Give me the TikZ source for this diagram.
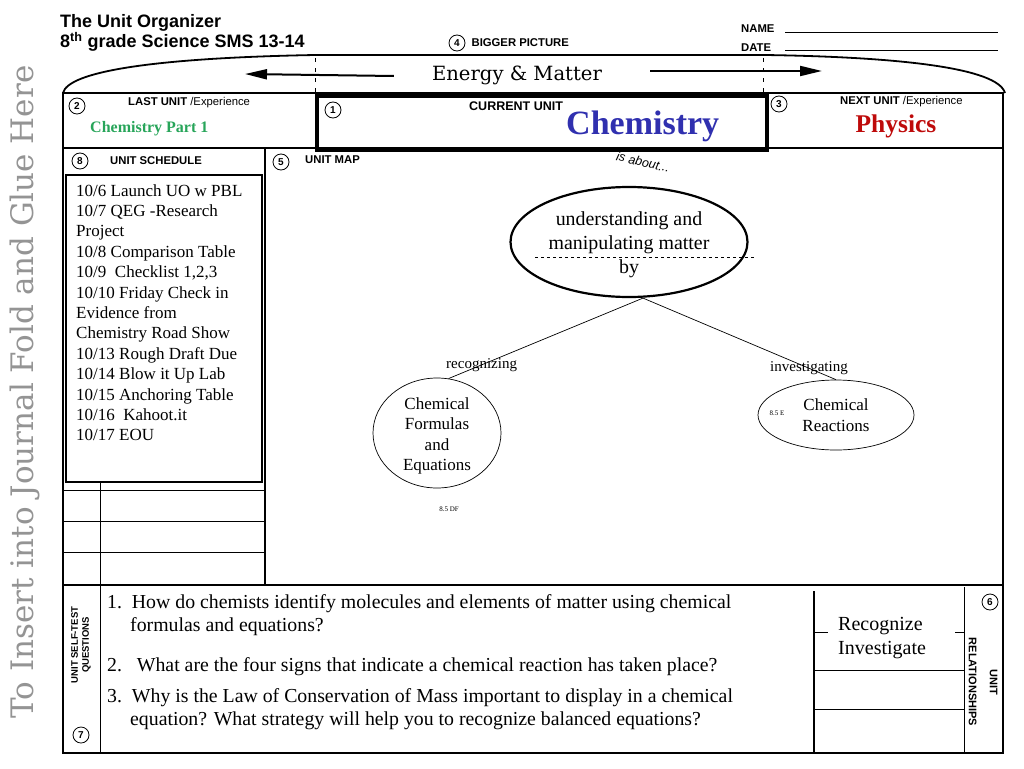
\documentclass[tikz,border=0pt]{standalone}
\usepackage{fontspec}
\setmainfont{Liberation Serif}
\setsansfont{Liberation Sans}
\newfontfamily\slabfont{DejaVu Serif}
\usepackage{xcolor}
\usetikzlibrary{positioning,arrows.meta,shapes.geometric}

\definecolor{lastgreen}{RGB}{40,165,90}
\definecolor{curblue}{RGB}{48,48,175}
\definecolor{nextred}{RGB}{190,10,10}

\begin{document}
\begin{tikzpicture}[
  x=1pt, y=-1pt,
  font=\sffamily,
  frame/.style  = {line width=1.8pt},
  rule/.style   = {line width=0.9pt},
  numc/.style   = {draw, circle, line width=0.8pt, inner sep=0pt, minimum size=16pt,
                   font=\sffamily\bfseries\fontsize{10}{10}\selectfont},
  head/.style   = {inner sep=0pt, font=\sffamily\bfseries\fontsize{11.3}{13}\selectfont},
  sched/.style  = {inner sep=0pt, align=left, anchor=north west,
                   font=\rmfamily\fontsize{17}{20.4}\selectfont},
  ques/.style   = {inner sep=0pt, anchor=west, font=\rmfamily\fontsize{19.8}{23}\selectfont},
  bubble/.style = {draw, ellipse, inner sep=0pt},
  words/.style  = {inner sep=0pt, align=center, font=\rmfamily\fontsize{17}{20.5}\selectfont},
  link/.style   = {line width=0.7pt},
  wide/.style   = {-{Triangle[length=22pt,width=10pt]}, line width=2pt},
]
\useasboundingbox (0,0) rectangle (1024,768);

% ---------- side note ----------
\node[rotate=90, text=black!42, font=\slabfont\fontsize{31}{31}\selectfont] (glue)
      at (25,392) {To Insert into Journal Fold and Glue Here};

% ---------- header ----------
\node[anchor=west, inner sep=0pt, align=left, font=\sffamily\bfseries\fontsize{18}{20}\selectfont]
      (title) at (60,33) {The Unit Organizer\\8\textsuperscript{th} grade Science SMS 13-14};
\node[head, anchor=west] (namelbl) at (741,29) {NAME};
\node[head, anchor=west] (datelbl) at (741,48) {DATE};
\draw[rule] (785,32) -- (998,32);
\draw[rule] (785,50) -- (998,50);

\node[numc] (n4) at (457,43) {4};
\node[head, right=6pt of n4] (bigger) {BIGGER PICTURE};

% ---------- bigger picture band ----------
\draw[frame] (63,93) .. controls (68,72) and (150,58) .. (315,55) -- (765,55)
      .. controls (900,57) and (998,68) .. (1005,93);
\draw[rule, dash pattern=on 4pt off 6pt] (315,58) -- (315,92);
\draw[rule, dash pattern=on 4pt off 6pt] (763,58) -- (763,92);

\node[font=\slabfont\fontsize{19.6}{19.6}\selectfont, inner sep=0pt] (energy) at (517,75) {Energy \& Matter};
\coordinate (lefttip)  at (245,74);
\coordinate (righttip) at (822,71);
\draw[wide] ([xshift=-38pt, yshift=-1pt]energy.west) -- (lefttip);
\draw[wide] ([xshift=48pt, yshift=4pt]energy.east) -- (righttip);

% ---------- outer frame ----------
\draw[frame] (63,93) -- (63,753) -- (1003,753) -- (1003,93) -- cycle;
\draw[line width=1.3pt] (63,148) -- (1003,148);
\draw[frame] (265,148) -- (265,585);
\draw[frame] (63,585) -- (1003,585);

% ---------- top row ----------
\node[numc] (n2) at (77,106) {2};
\node[head, anchor=west] (lastlbl) at (128,103) {LAST UNIT \textmd{/Experience}};
\node[anchor=west, inner sep=0pt, text=lastgreen, font=\rmfamily\bfseries\fontsize{16}{16}\selectfont]
      (lastunit) at (90,129) {Chemistry Part 1};

\node[draw, line width=3.6pt, anchor=north west, minimum width=450pt, minimum height=54pt]
      (curbox) at (315,94) {};
\node[numc] (n1) at (333,110) {1};
\node[head, anchor=west, font=\sffamily\bfseries\fontsize{12.5}{14}\selectfont] (curlbl) at (469,106) {CURRENT UNIT};
\node[anchor=base west, inner sep=0pt, text=curblue, font=\rmfamily\bfseries\fontsize{34}{34}\selectfont]
      (curunit) at (566,134) {Chemistry};

\node[numc] (n3) at (779,104) {3};
\node[head, anchor=west] (nextlbl) at (840,102) {NEXT UNIT \textmd{/Experience}};
\node[inner sep=0pt, text=nextred, font=\rmfamily\bfseries\fontsize{25.5}{25.5}\selectfont]
      (nextunit) at (896,126) {Physics};

% ---------- unit schedule ----------
\node[numc] (n8) at (80,161) {8};
\node[head, anchor=west] (schedlbl) at (110,161) {UNIT SCHEDULE};
\draw[line width=1.3pt] (66,175) rectangle (262,482);
\node[sched] (dates) at (76,184) {10/6 Launch UO w PBL\\10/7 QEG -Research\\Project\\
      10/8 Comparison Table\\10/9\ \ Checklist 1,2,3\\10/10 Friday Check in\\Evidence from\\
      Chemistry Road Show\\10/13 Rough Draft Due\\10/14 Blow it Up Lab\\
      10/15 Anchoring Table\\10/16\ \ Kahoot.it\\10/17 EOU};
\foreach \y in {490,521,552}
  \draw[rule] (63,\y) -- (265,\y);
\draw[rule] (100,482) -- (100,753);

% ---------- unit map ----------
\node[numc] (n5) at (281,162) {5};
\node[head, anchor=west] (maplbl) at (305,160) {UNIT MAP};
\node[rotate=-13, inner sep=0pt, font=\sffamily\itshape\fontsize{12.5}{12.5}\selectfont]
      (isabout) at (643,162) {is about...};

\node[bubble, line width=2.2pt, minimum width=237pt, minimum height=110pt] (matter) at (629,242) {};
\node[words, font=\rmfamily\fontsize{19.9}{24}\selectfont] (mattertxt) at (629,245)
      {understanding and\\manipulating matter\\by};
\draw[dashed, line width=0.8pt] (535,257) -- (755,257);

\node[bubble, link, minimum width=128pt, minimum height=110pt] (formulas) at (437,433) {};
\node[words] (formtxt) at (437,436) {Chemical\\Formulas\\and\\Equations};
\node[bubble, link, minimum width=156pt, minimum height=70pt] (reactions) at (836,415) {};
\node[words] (reacttxt) at (836,415) {Chemical\\Reactions};
\node[inner sep=0pt, font=\rmfamily\fontsize{7}{7}\selectfont] (df) at (449,509) {8.5 DF};
\node[inner sep=0pt, font=\rmfamily\fontsize{7}{7}\selectfont] (e) at (777,413) {8.5 E};

\coordinate (fork) at ([xshift=14pt]matter.south);
\draw[link] (fork) -- (formulas.78)
      node[pos=.83, inner sep=0pt, font=\rmfamily\fontsize{15}{15}\selectfont] {recognizing};
\draw[link] (fork) -- (reactions.north)
      node[pos=.86, inner sep=0pt, font=\rmfamily\fontsize{15}{15}\selectfont] {investigating};

% ---------- self-test questions ----------
\node[rotate=90, head, align=center, font=\sffamily\bfseries\fontsize{9.5}{11}\selectfont]
      (selftest) at (81,645) {UNIT SELF-TEST\\QUESTIONS};
\node[numc] (n7) at (81,735) {7};

\node[ques] (q1) at (107,604) {1.\ \ How do chemists identify molecules and elements of matter using chemical};
\node[ques] (q1b) at (130,627) {formulas and equations?};
\node[ques] (q2) at (107,667) {2.\ \ \ What are the four signs that indicate a chemical reaction has taken place?};
\node[ques] (q3) at (107,698) {3.\ \ Why is the Law of Conservation of Mass important to display in a chemical};
\node[ques] (q3b) at (130,721) {equation? What strategy will help you to recognize balanced equations?};

% ---------- unit relationships ----------
\draw[frame] (814,591) -- (814,753);
\draw[rule] (964,587) -- (964,753);
\draw[rule] (814,670) -- (964,670);
\draw[rule] (814,709) -- (964,709);
\draw[rule] (814,632) -- (828,632);
\draw[rule] (955,632) -- (964,632);
\node[anchor=north west, inner sep=0pt, align=left, font=\rmfamily\fontsize{20}{24}\selectfont]
      (links) at (838,617) {Recognize\\Investigate};
\node[numc] (n6) at (990,602) {6};
\node[rotate=-90, head, align=center, font=\sffamily\bfseries\fontsize{11}{21}\selectfont]
      (relations) at (983,682) {UNIT\\RELATIONSHIPS};

\end{tikzpicture}
\end{document}
